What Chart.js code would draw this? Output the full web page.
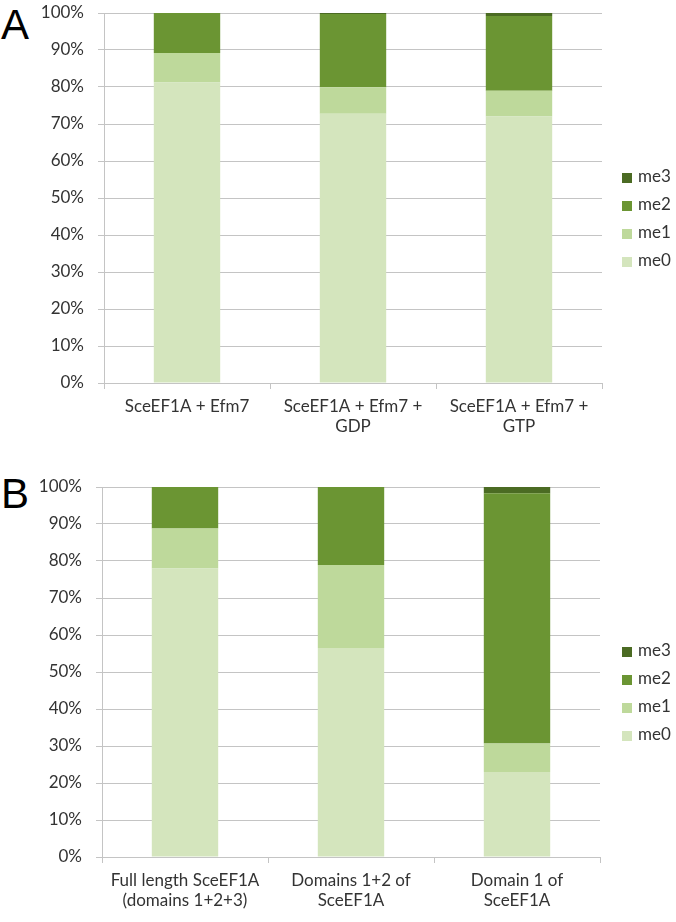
<!DOCTYPE html>
<html>
<head>
<meta charset="utf-8">
<script src="https://cdn.jsdelivr.net/npm/chart.js@4"></script>
<style>
  body { margin: 0; background: #fff; width: 676px; height: 922px; position: relative; overflow: hidden; font-family: Lato, sans-serif; }
  canvas { position: absolute; left: 0; }
  .letra { position: absolute; left: 1px; font-family: "Liberation Sans", Arial, sans-serif; font-size: 42px; color: #000; line-height: 1; }
  .leyenda { position: absolute; left: 622px; }
  .item { position: absolute; left: 0; height: 20px; width: 60px; font-size: 17px; color: #333; line-height: 20px; }
  .item span { display: inline-block; width: 10px; height: 10px; margin-right: 6px; vertical-align: -1px; }
</style>
</head>
<body>
<div class="letra" style="top:4px">A</div>
<div class="letra" style="top:473px">B</div>
<canvas id="chartA" width="676" height="460" style="top:0"></canvas>
<canvas id="chartB" width="676" height="452" style="top:470px"></canvas>
<div class="leyenda" id="leyendaA" style="top:176px"></div>
<div class="leyenda" id="leyendaB" style="top:650px"></div>
<script>
// categorías (etiquetas de eje x)
const categoriasA = [['SceEF1A + Efm7'], ['SceEF1A + Efm7 +', 'GDP'], ['SceEF1A + Efm7 +', 'GTP']];
const categoriasB = [['Full length SceEF1A', '(domains 1+2+3)'], ['Domains 1+2 of', 'SceEF1A'], ['Domain 1 of', 'SceEF1A']];

// series (% de cada estado de metilación)
const me0A = [81.2, 72.8, 72.0];
const me1A = [8.0, 7.1, 7.0];
const me2A = [10.8, 19.8, 20.2];
const me3A = [0, 0.3, 0.8];

const me0B = [78.0, 56.5, 23.0];
const me1B = [10.8, 22.4, 7.7];
const me2B = [11.2, 21.1, 67.6];
const me3B = [0, 0, 1.7];

const series = ['me0', 'me1', 'me2', 'me3'];
const colores = ['#d4e5bd', '#bed99b', '#6b9533', '#4b6b23'];
const ticksY = [0, 10, 20, 30, 40, 50, 60, 70, 80, 90, 100];

function crearGrafico(id, categorias, valores, cfg) {
    const ctx = document.getElementById(id).getContext('2d');
    return new Chart(ctx, {
        type: 'bar',
        data: {
            labels: categorias,
            datasets: valores.map((v, i) => ({
                label: series[i],
                data: v,
                backgroundColor: colores[i],
                borderWidth: 0,
                categoryPercentage: 0.4,
                barPercentage: 1
            }))
        },
        options: {
            responsive: false,
            animation: false,
            layout: { padding: { top: cfg.top, right: cfg.right, left: 0, bottom: 0 } },
            plugins: { legend: { display: false }, tooltip: { enabled: false } },
            scales: {
                x: {
                    stacked: true,
                    grid: { drawOnChartArea: false, color: '#c4c4c4', tickLength: 6 },
                    border: { color: '#c4c4c4' },
                    ticks: { color: '#333', font: { family: 'Lato', size: 17 }, padding: 7, maxRotation: 0 },
                    afterFit: s => { s.height = cfg.alturaX; }
                },
                y: {
                    stacked: true,
                    min: 0, max: 100,
                    afterBuildTicks: s => { s.ticks = ticksY.map(v => ({ value: v })); },
                    grid: { color: '#c4c4c4', tickLength: 6 },
                    border: { color: '#c4c4c4' },
                    ticks: { color: '#333', font: { family: 'Lato', size: 17 }, padding: 14, callback: v => v + '%' },
                    // ancho fijo y sin margen extra arriba/abajo para fijar el área del gráfico
                    afterFit: s => { s.width = cfg.anchoY; s.paddingTop = 0; s.paddingBottom = 0; }
                }
            }
        }
    });
}

function crearLeyenda(id) {
    const cont = document.getElementById(id);
    [3, 2, 1, 0].forEach((i, k) => {
        const d = document.createElement('div');
        d.className = 'item';
        d.style.top = (k * 28 - 10) + 'px';
        d.innerHTML = '<span style="background:' + colores[i] + '"></span>' + series[i];
        cont.appendChild(d);
    });
}

crearGrafico('chartA', categoriasA, [me0A, me1A, me2A, me3A], { top: 13, right: 74, anchoY: 104, alturaX: 77 });
crearGrafico('chartB', categoriasB, [me0B, me1B, me2B, me3B], { top: 17, right: 76, anchoY: 102, alturaX: 65 });
crearLeyenda('leyendaA');
crearLeyenda('leyendaB');
</script>
</body>
</html>
